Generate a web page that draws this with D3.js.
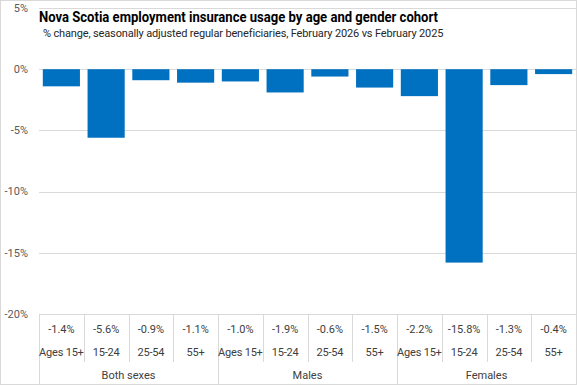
<!DOCTYPE html>
<html>
<head>
<meta charset="utf-8">
<script src="https://cdn.jsdelivr.net/npm/d3@7"></script>
<style>
  body { margin: 0; background: #fff; }
  svg { display: block; font-family: Roboto, "Noto Sans", sans-serif; }
</style>
</head>
<body>
<svg id="chart"></svg>
<script>
var width = 577,
    height = 385;

// data
var groups = ["Both sexes", "Males", "Females"];
var ages = ["Ages 15+", "15-24", "25-54", "55+"];
var values = [-1.4, -5.6, -0.9, -1.1, -1.0, -1.9, -0.6, -1.5, -2.2, -15.8, -1.3, -0.4];
var yTicks = [5, 0, -5, -10, -15, -20];

var rows = [];
groups.forEach(function(g, gi) {
  ages.forEach(function(a, ai) {
    rows.push({ group: g, age: a, value: values[gi * ages.length + ai], id: gi + "-" + ai });
  });
});

var plotLeft = 39, plotRight = 576, plotTop = 8, plotBottom = 314;

var x = d3.scaleBand()
    .domain(rows.map(function(d) { return d.id; }))
    .range([plotLeft, plotRight])
    .paddingInner(0.17)
    .paddingOuter(0.085);

var xCell = d3.scaleBand()
    .domain(rows.map(function(d) { return d.id; }))
    .range([plotLeft, plotRight]);

var y = d3.scaleLinear()
    .domain([-20, 5])
    .range([plotBottom, plotTop]);

var fmt = function(v) { return v.toFixed(1) + "%"; };

var svg = d3.select("#chart")
    .attr("width", width)
    .attr("height", height);

svg.append("rect")
    .attr("x", 0.5).attr("y", 0.5)
    .attr("width", width - 1).attr("height", height - 1)
    .attr("fill", "#fff")
    .attr("stroke", "#d9d9d9");

// gridlines
svg.append("g")
  .selectAll("line")
  .data(yTicks)
  .enter().append("line")
    .attr("x1", plotLeft).attr("x2", plotRight)
    .attr("y1", function(d) { return Math.round(y(d)) + 0.5; })
    .attr("y2", function(d) { return Math.round(y(d)) + 0.5; })
    .attr("stroke", "#d9d9d9");

svg.append("g")
  .selectAll("text")
  .data(yTicks)
  .enter().append("text")
    .attr("x", 28)
    .attr("y", function(d) { return y(d); })
    .attr("dy", "0.35em")
    .attr("text-anchor", "end")
    .attr("fill", "#595959")
    .style("font-size", "11px")
    .text(function(d) { return d + "%"; });

// bars
svg.append("g")
  .selectAll("rect")
  .data(rows)
  .enter().append("rect")
    .attr("x", function(d) { return x(d.id); })
    .attr("width", x.bandwidth())
    .attr("y", function(d) { return y(Math.max(0, d.value)); })
    .attr("height", function(d) { return Math.abs(y(d.value) - y(0)); })
    .attr("fill", "#0070c0");

// data table
var table = svg.append("g");
var lineColor = "#d9d9d9";

table.append("line")
    .attr("x1", plotLeft + 0.5).attr("x2", plotLeft + 0.5)
    .attr("y1", plotBottom).attr("y2", height)
    .attr("stroke", lineColor);

table.selectAll(".div")
  .data(rows.slice(1))
  .enter().append("line")
    .attr("class", "div")
    .attr("x1", function(d) { return Math.round(xCell(d.id)) + 0.5; })
    .attr("x2", function(d) { return Math.round(xCell(d.id)) + 0.5; })
    .attr("y1", plotBottom)
    .attr("y2", function(d) { return d.id.split("-")[1] === "0" ? height : 362; })
    .attr("stroke", lineColor);

table.selectAll(".val")
  .data(rows)
  .enter().append("text")
    .attr("class", "val")
    .attr("x", function(d) { return xCell(d.id) + xCell.bandwidth() / 2; })
    .attr("y", 329)
    .attr("dy", "0.35em")
    .attr("text-anchor", "middle")
    .attr("fill", "#404040")
    .style("font-size", "11px")
    .text(function(d) { return fmt(d.value); });

table.selectAll(".age")
  .data(rows)
  .enter().append("text")
    .attr("class", "age")
    .attr("x", function(d) { return xCell(d.id) + xCell.bandwidth() / 2; })
    .attr("y", 352)
    .attr("dy", "0.35em")
    .attr("text-anchor", "middle")
    .attr("fill", "#404040")
    .style("font-size", "11px")
    .style("letter-spacing", "-0.2px")
    .text(function(d) { return d.age; });

table.selectAll(".grp")
  .data(groups)
  .enter().append("text")
    .attr("class", "grp")
    .attr("x", function(g, i) {
      var a = xCell(i + "-0"), b = xCell(i + "-3") + xCell.bandwidth();
      return (a + b) / 2;
    })
    .attr("y", 375)
    .attr("dy", "0.35em")
    .attr("text-anchor", "middle")
    .attr("fill", "#404040")
    .style("font-size", "11px")
    .text(function(d) { return d; });

// titles
svg.append("text")
    .attr("x", 39).attr("y", 22)
    .attr("fill", "#000")
    .attr("textLength", 399)
    .attr("lengthAdjust", "spacingAndGlyphs")
    .style("font-size", "15px")
    .style("font-weight", "bold")
    .text("Nova Scotia employment insurance usage by age and gender cohort");

svg.append("text")
    .attr("x", 43).attr("y", 37)
    .attr("fill", "#262626")
    .style("font-size", "11px")
    .style("letter-spacing", "-0.15px")
    .text("% change, seasonally adjusted regular beneficiaries, February 2026 vs February 2025");
</script>
</body>
</html>
